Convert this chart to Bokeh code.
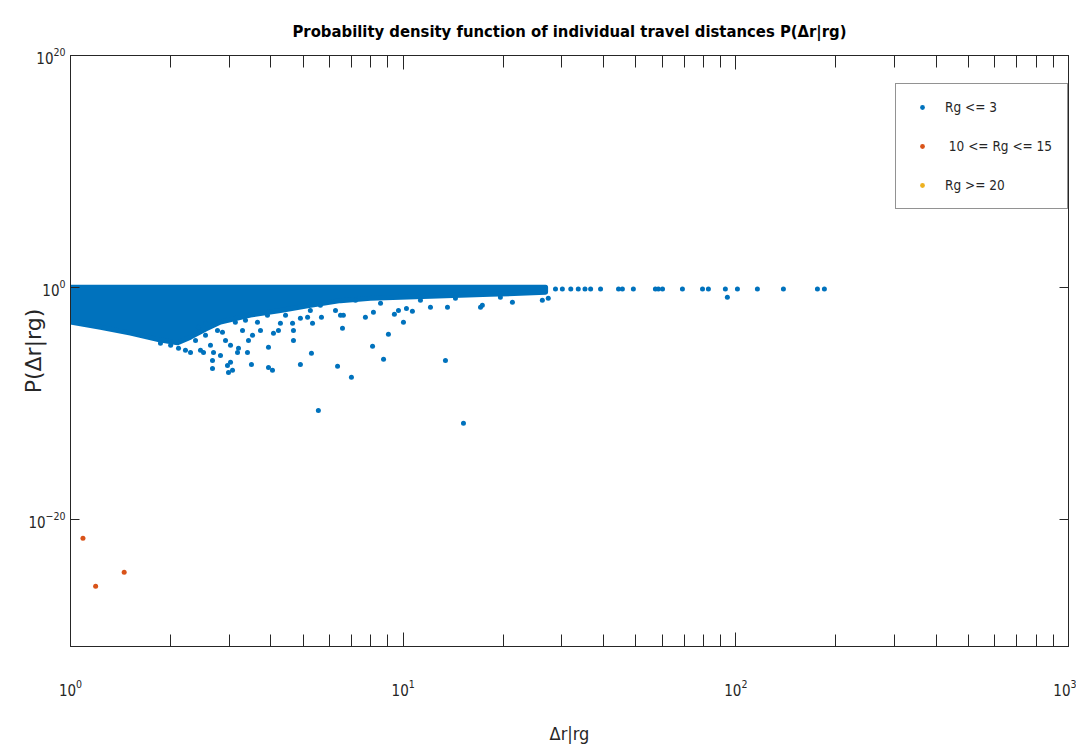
from bokeh.plotting import figure
from bokeh.models import (Range1d, FixedTicker, LogAxis, Legend, LegendItem,
                          ColumnDataSource)
from bokeh.embed import file_html
from bokeh.resources import INLINE

# ---------------- data ----------------
# dense cloud of the "Rg <= 3" group: lower envelope (upper edge at P = 1)
band_x = [1.0, 1.231, 1.514, 1.864, 2.1, 2.295, 2.55, 2.824, 3.476, 4.278,
          5.266, 6.48, 7.97, 9.81, 12.08, 14.87, 18.3, 22.5, 26.8]
band_low = [1.0e-3, 3.5e-4, 1.1e-4, 2.8e-5, 1.6e-5, 5.0e-5, 2.5e-4, 1.0e-3,
            4.0e-3, 1.0e-2, 2.8e-2, 7.0e-2, 0.11, 0.14, 0.17, 0.2, 0.25, 0.3, 0.37]
band_top = 1.0

# individual "Rg <= 3" points
small_x = [2.376, 2.459, 2.511, 2.672, 2.672, 2.691, 2.766, 2.824, 2.964, 2.985,
           3.027, 3.069, 3.177, 3.199, 2.924, 3.289, 3.404, 3.428, 3.499, 3.648,
           3.909, 3.937, 3.937, 4.047, 4.075, 4.218, 4.276, 4.65, 4.68, 4.68,
           4.91, 5.16, 5.30, 5.34, 5.68, 5.26, 3.13, 2.546, 2.425, 5.56,
           6.26, 6.48, 6.61, 6.57, 6.35, 6.99, 7.70, 8.14, 8.09, 8.73,
           9.03, 9.41, 9.68, 10.02, 10.23, 10.66, 12.08, 13.59, 13.40, 15.18,
           17.08, 17.3, 21.3, 26.2, 27.3, 94.3, 2.0, 2.112, 2.216, 2.295,
           1.864, 2.546, 2.635, 2.863, 3.027, 3.357, 3.525, 3.725, 4.43, 4.91,
           5.64, 7.19, 8.55, 11.27, 14.36, 19.6,
           28.7, 30.1, 31.9, 33.6, 35.2, 36.6, 39.2, 44.4, 45.6, 49.2,
           57.3, 58.5, 60.2, 69.1, 79.4, 82.7, 93.0, 101.1, 116.1, 139.0,
           175.9, 184.6]
small_y = [2.6e-5, 3.6e-6, 2.4e-6, 4.9e-7, 1.0e-7, 2.4e-6, 1.9e-4, 1.3e-6, 1.8e-7, 4.5e-8,
           3.3e-7, 6.8e-8, 2.4e-6, 5.4e-6, 2.6e-5, 1.9e-4, 2.4e-6, 2.6e-5, 2.2e-7, 9.5e-4,
           3.8e-3, 6.6e-6, 1.2e-7, 6.8e-8, 1.1e-4, 1.9e-4, 7.8e-4, 7.8e-4, 1.9e-4, 2.6e-5,
           2.2e-7, 2.6e-3, 2.0e-6, 7.8e-4, 2.6e-3, 1.0e-2, 9.5e-4, 7.8e-4, 3.5e-4, 2.3e-11,
           1.0e-2, 3.8e-3, 3.8e-3, 2.9e-4, 1.5e-7, 1.7e-8, 2.6e-3, 6.9e-3, 8.0e-6, 6.0e-7,
           8.7e-5, 4.7e-3, 1.0e-2, 9.5e-4, 1.5e-2, 8.5e-3, 1.9e-2, 1.9e-2, 4.9e-7, 1.8e-12,
           1.9e-2, 2.8e-2, 5.0e-2, 7.5e-2, 0.11, 0.14, 9.8e-6, 5.4e-6, 3.6e-6, 2.4e-6,
           1.5e-5, 7.1e-5, 9.8e-6, 1.3e-4, 9.8e-6, 1.4e-3, 7.1e-5, 1.9e-4, 3.8e-3, 2.1e-3,
           2.8e-2, 7.6e-2, 4.2e-2, 7.6e-2, 0.11, 0.14,
           0.7, 0.7, 0.7, 0.7, 0.7, 0.7, 0.7, 0.7, 0.7, 0.7,
           0.7, 0.7, 0.7, 0.7, 0.7, 0.7, 0.7, 0.7, 0.7, 0.7,
           0.7, 0.7]

# "10 <= Rg <= 15" group
mid_x = [1.09, 1.19, 1.45]
mid_y = [2.2e-22, 1.6e-26, 2.5e-25]

# "Rg >= 20" group: no points are visible (an empty series, kept as NaN)
large_x = [float("nan")]
large_y = [float("nan")]

labels = ["Rg <= 3", " 10 <= Rg <= 15", "Rg >= 20"]

x_major = [1, 10, 100, 1000]
x_minor = [2, 3, 4, 5, 6, 7, 8, 9, 20, 30, 40, 50, 60, 70, 80, 90,
           200, 300, 400, 500, 600, 700, 800, 900]
y_major = [1e-20, 1, 1e20]

# ---------------- styling ----------------
BLUE = "#0072BD"
ORANGE = "#D95319"
YELLOW = "#EDB120"
AX = "#262626"
NARROW = "DejaVu Sans Condensed, DejaVu Sans"

p = figure(frame_width=998, frame_height=591,
           x_axis_type="log", y_axis_type="log",
           x_range=Range1d(1, 1000), y_range=Range1d(1e-31, 1e20),
           output_backend="svg", toolbar_location=None,
           min_border_left=70, min_border_right=8,
           min_border_top=55, min_border_bottom=96,
           title="Probability density function of individual travel distances P(\u0394r|rg)")

p.title.text_font = NARROW
p.title.text_font_size = "16.5px"
p.title.text_font_style = "bold"
p.title.text_color = "#000000"
p.title.align = "center"
p.title.standoff = 29

p.grid.visible = False
p.outline_line_color = AX
p.outline_line_width = 1
p.background_fill_color = "white"
p.border_fill_color = "white"

xt = FixedTicker(ticks=x_major, minor_ticks=x_minor)
yt = FixedTicker(ticks=y_major, minor_ticks=[])

xa = p.xaxis[0]
xa.ticker = xt
xa.axis_label = "\u0394r|rg"
ya = p.yaxis[0]
ya.ticker = yt
ya.axis_label = "P(\u0394r|rg)"

for ax in (xa, ya):
    ax.axis_line_color = AX
    ax.major_tick_line_color = AX
    ax.minor_tick_line_color = AX
    ax.major_tick_out = 0
    ax.minor_tick_out = 0
    ax.major_label_text_font = NARROW
    ax.major_label_text_font_size = "15px"
    ax.major_label_text_color = AX
    ax.axis_label_text_font_style = "normal"
    ax.axis_label_text_color = AX

xa.major_tick_in = 14
xa.minor_tick_in = 12
xa.major_label_standoff = 32
xa.axis_label_text_font = NARROW
xa.axis_label_text_font_size = "18px"
xa.axis_label_standoff = 24

ya.major_tick_in = 9
ya.minor_tick_in = 0
ya.major_label_standoff = 5
ya.axis_label_text_font = "DejaVu Sans"
ya.axis_label_text_font_size = "22px"
ya.axis_label_standoff = -21

top_ax = LogAxis(ticker=xt, major_label_text_font_size="1px",
                 major_label_text_alpha=0,
                 major_tick_in=14, major_tick_out=0,
                 minor_tick_in=12, minor_tick_out=0,
                 axis_line_color=AX, major_tick_line_color=AX,
                 minor_tick_line_color=AX, major_label_standoff=0)
right_ax = LogAxis(ticker=yt, major_label_text_font_size="1px",
                   major_label_text_alpha=0,
                   major_tick_in=9, major_tick_out=0,
                   minor_tick_in=0, minor_tick_out=0,
                   axis_line_color=AX, major_tick_line_color=AX,
                   major_label_standoff=0)
p.add_layout(top_ax, "above")
p.add_layout(right_ax, "right")

# dense band
p.patch(x=band_x + band_x[::-1], y=band_low + [band_top] * len(band_x),
        fill_color=BLUE, line_color=BLUE, line_width=5, line_join="round")

src_s = ColumnDataSource(dict(x=small_x, y=small_y))
src_m = ColumnDataSource(dict(x=mid_x, y=mid_y))
src_l = ColumnDataSource(dict(x=large_x, y=large_y))

r_s = p.scatter(x="x", y="y", marker="circle", size=5, source=src_s,
                fill_color=BLUE, line_color=None)
r_m = p.scatter(x="x", y="y", marker="circle", size=5, source=src_m,
                fill_color=ORANGE, line_color=None)
r_l = p.scatter(x="x", y="y", marker="circle", size=5, source=src_l,
                fill_color=YELLOW, line_color=None)

legend = Legend(items=[LegendItem(label=labels[0], renderers=[r_s]),
                       LegendItem(label=labels[1], renderers=[r_m]),
                       LegendItem(label=labels[2], renderers=[r_l])],
                location=(825, 437))
legend.border_line_color = AX
legend.border_line_width = 1
legend.background_fill_color = "white"
legend.background_fill_alpha = 1
legend.label_text_font = NARROW
legend.label_text_font_size = "13.5px"
legend.label_text_color = AX
legend.padding = 15
legend.margin = 0
legend.spacing = 23
legend.label_height = 12
legend.glyph_height = 12
legend.glyph_width = 22
legend.label_standoff = 12
p.add_layout(legend)

open("out.html", "w").write(file_html(p, INLINE))
